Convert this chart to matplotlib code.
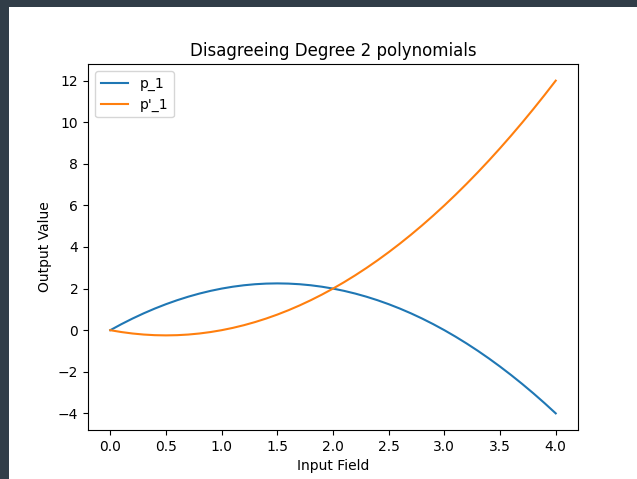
import matplotlib
matplotlib.use("Agg")
import matplotlib.pyplot as plt
from matplotlib.patches import Rectangle

# values at steps of 0.1
x_vals = [0.0, 0.1, 0.2, 0.3, 0.4, 0.5, 0.6, 0.7, 0.8, 0.9,
          1.0, 1.1, 1.2, 1.3, 1.4, 1.5, 1.6, 1.7, 1.8, 1.9,
          2.0, 2.1, 2.2, 2.3, 2.4, 2.5, 2.6, 2.7, 2.8, 2.9,
          3.0, 3.1, 3.2, 3.3, 3.4, 3.5, 3.6, 3.7, 3.8, 3.9, 4.0]
p1_vals = [0.0, 0.29, 0.56, 0.81, 1.04, 1.25, 1.44, 1.61, 1.76, 1.89,
           2.0, 2.09, 2.16, 2.21, 2.24, 2.25, 2.24, 2.21, 2.16, 2.09,
           2.0, 1.89, 1.76, 1.61, 1.44, 1.25, 1.04, 0.81, 0.56, 0.29,
           0.0, -0.31, -0.64, -0.99, -1.36, -1.75, -2.16, -2.59, -3.04, -3.51, -4.0]
p1_prime_vals = [0.0, -0.09, -0.16, -0.21, -0.24, -0.25, -0.24, -0.21, -0.16, -0.09,
                 0.0, 0.11, 0.24, 0.39, 0.56, 0.75, 0.96, 1.19, 1.44, 1.71,
                 2.0, 2.31, 2.64, 2.99, 3.36, 3.75, 4.16, 4.59, 5.04, 5.51,
                 6.0, 6.51, 7.04, 7.59, 8.16, 8.75, 9.36, 9.99, 10.64, 11.31, 12.0]

W, H = 637, 479
fig = plt.figure(figsize=(W / 100, H / 100), dpi=100, facecolor='#313d48')
# white figure area of the screenshot
fig.add_artist(Rectangle((9 / W, 0), 1, (H - 7) / H, transform=fig.transFigure,
                         facecolor='white', edgecolor='none', zorder=-1))

ax = fig.add_axes([88 / W, (H - 430) / H, 490 / W, 366 / H])
ax.plot(x_vals, p1_vals, label='p_1')
ax.plot(x_vals, p1_prime_vals, label="p'_1")
ax.set_title('Disagreeing Degree 2 polynomials')
ax.set_xlabel('Input Field')
ax.set_ylabel('Output Value')
ax.legend(loc='upper left')

fig.savefig('out.png', dpi=100, facecolor=fig.get_facecolor())
